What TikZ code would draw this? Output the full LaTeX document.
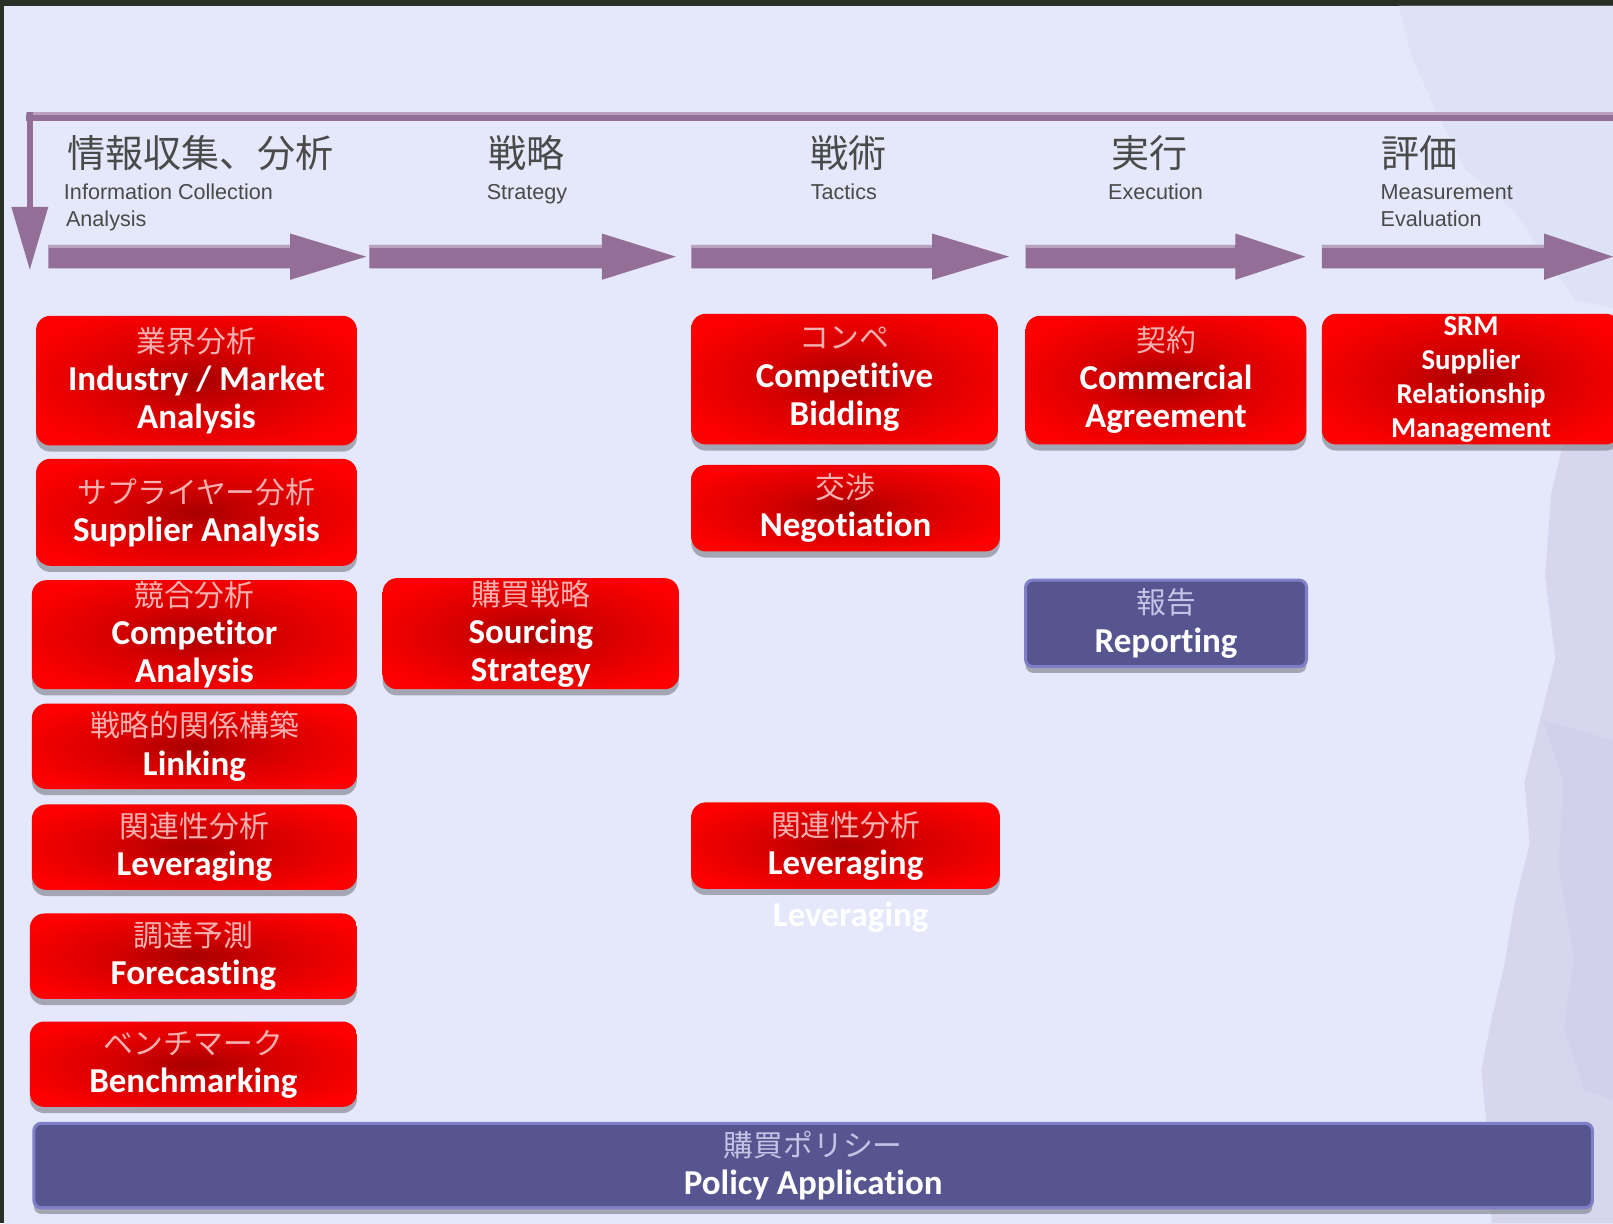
\documentclass[tikz,border=0pt]{standalone}
\usepackage{fontspec}
\usetikzlibrary{shadows}
\setmainfont{Liberation Sans}
\newfontfamily\jpfont{Noto Sans CJK JP}
\newfontfamily\boxfont[Ligatures=NoCommon]{Carlito}
\newfontfamily\hdfont{Liberation Sans}

\definecolor{bg}{HTML}{E4E8FA}
\definecolor{framec}{HTML}{263024}
\definecolor{mauve}{HTML}{936E97}
\definecolor{mauvehi}{HTML}{B9A2C0}
\definecolor{rdark}{HTML}{A80000}
\definecolor{rmid}{HTML}{D40000}
\definecolor{rbright}{HTML}{FF0000}
\definecolor{navy}{HTML}{56558F}
\definecolor{navyhi}{HTML}{7F7FC8}
\definecolor{hdtext}{HTML}{4A4A4A}
\definecolor{jpred}{HTML}{F6B0B0}
\definecolor{jpnavy}{HTML}{C4C4E6}
\definecolor{mapfaint}{HTML}{DCE0F5}
\definecolor{mapc}{HTML}{CDCCE8}

\pgfdeclareradialshading{redglow}{\pgfpoint{0bp}{0bp}}{%
  color(0bp)=(rdark); color(12bp)=(rmid); color(30bp)=(rbright); color(50bp)=(rbright)}

% Japanese captions inside the boxes (light weight)
\newcommand\jpin{\jpfont\mdseries\fontsize{29}{37}\selectfont\color{jpred}}
\newcommand\jpnv{\jpfont\mdseries\fontsize{29}{37}\selectfont\color{jpnavy}}

\tikzset{
  redbox/.style={shade, shading=redglow, rounded corners=14pt, inner sep=0pt,
    align=center, text=white,
    font=\boxfont\bfseries\fontsize{34}{37}\selectfont,
    drop shadow={shadow xshift=0pt, shadow yshift=-6pt, fill=black!40!bg, opacity=0.7}},
  navybox/.style={fill=navy, draw=navyhi, line width=3pt, rounded corners=7pt, inner sep=0pt,
    align=center, text=white,
    font=\boxfont\bfseries\fontsize{34}{37}\selectfont,
    drop shadow={shadow xshift=0pt, shadow yshift=-6pt, fill=black!40!bg, opacity=0.7}},
  hdjp/.style={anchor=base west, inner sep=0pt, text=hdtext, font=\jpfont\fontsize{37}{40}\selectfont},
  hden/.style={anchor=base west, inner sep=0pt, text=hdtext, font=\hdfont\fontsize{21}{24}\selectfont},
  bandarrow/.style={fill=mauve},
}

\begin{document}
\begin{tikzpicture}[x=1pt, y=-1pt]
\useasboundingbox (0,0) rectangle (1568,1189);

% dark surround and light panel
\fill[framec] (0,0) rectangle (1568,1189);
\fill[bg] (3.5,5.5) rectangle (1575,1195);

% faint map texture along the right edge
\fill[mapfaint, opacity=0.7] (1360,5.5) -- (1570,5.5) -- (1570,300) -- (1532,292) -- (1505,255)
  -- (1472,205) -- (1425,165) -- (1395,105) -- (1372,55) -- cycle;
\fill[mapc, opacity=0.6] (1570,300) -- (1548,335) -- (1522,420) -- (1508,480) -- (1502,560)
  -- (1512,640) -- (1497,700) -- (1482,760) -- (1487,820) -- (1472,880) -- (1462,940)
  -- (1450,990) -- (1440,1040) -- (1445,1092) -- (1450,1189) -- (1570,1189) -- cycle;
\fill[mapc, opacity=0.5] (1500,700) -- (1520,760) -- (1515,840) -- (1530,930) -- (1520,1000)
  -- (1540,1060) -- (1570,1070) -- (1570,720) -- cycle;

% top band with the return arrow on the left
\fill[mauve] (25,109) rectangle (1570,118);
\fill[mauvehi] (25,109) rectangle (1570,111.5);
\fill[mauve] (26,109) rectangle (32,202);
\fill[mauve] (11,201) -- (47,201) -- (29,262) -- cycle;

% phase arrows
\foreach \s/\b/\t [count=\i] in {47/282/356, 359/585/657, 672/906/981, 997/1201/1269, 1285/1501/1568}{
  \fill[bandarrow] (\s,238) -- (\b,238) -- (\b,227) -- (\t,249.5) -- (\b,272) -- (\b,261) -- (\s,261) -- cycle;
  \fill[mauvehi] (\s,238) rectangle (\b,241);
}

% phase headings
\node[hdjp] (h1jp) at (65,163) {情報収集、分析};
\node[hden] (h1en) at (62,194) {Information Collection};
\node[hden] (h1en2) at (64,220) {Analysis};
\node[hdjp] (h2jp) at (475,163) {戦略};
\node[hden] (h2en) at (473,194) {Strategy};
\node[hdjp] (h3jp) at (788,163) {戦術};
\node[hden] (h3en) at (788,194) {Tactics};
\node[hdjp] (h4jp) at (1080,163) {実行};
\node[hden] (h4en) at (1077,194) {Execution};
\node[hdjp] (h5jp) at (1343,163) {評価};
\node[hden] (h5en) at (1342,194) {Measurement};
\node[hden] (h5en2) at (1342,220) {Evaluation};

% information collection / analysis column
\node[redbox, minimum width=312pt, minimum height=126pt] (ind) at (191,370)
  {{\jpin 業界分析}\\Industry / Market\\Analysis};
\node[redbox, minimum width=312pt, minimum height=104pt] (sup) at (191,498)
  {{\jpin サプライヤー分析}\\Supplier Analysis};
\node[redbox, minimum width=316pt, minimum height=106pt] (comp) at (189,617)
  {{\jpin 競合分析}\\Competitor\\Analysis};
\node[redbox, minimum width=316pt, minimum height=83pt] (link) at (189,725.5)
  {{\jpin 戦略的関係構築}\\Linking};
\node[redbox, minimum width=316pt, minimum height=83pt] (lev1) at (189,823.5)
  {{\jpin 関連性分析}\\Leveraging};
\node[redbox, minimum width=318pt, minimum height=83pt] (fore) at (188,929.5)
  {{\jpin 調達予測}\\Forecasting};
\node[redbox, minimum width=318pt, minimum height=83pt] (bench) at (188,1034.5)
  {{\jpin ベンチマーク}\\Benchmarking};

% strategy column
\node[redbox, minimum width=288pt, minimum height=108pt] (src) at (516,616)
  {{\jpin 購買戦略}\\Sourcing\\Strategy};

% tactics column
\node[redbox, minimum width=298pt, minimum height=127pt] (bid) at (821,368.5)
  {{\jpin コンペ}\\Competitive\\Bidding};
\node[redbox, minimum width=300pt, minimum height=84pt] (neg) at (822,494)
  {{\jpin 交渉}\\Negotiation};
\node[redbox, minimum width=300pt, minimum height=84pt] (lev2) at (822,822)
  {{\jpin 関連性分析}\\Leveraging};
\node[inner sep=0pt, text=white, font=\boxfont\bfseries\fontsize{34}{37}\selectfont]
  (lev2note) at (827,892) {Leveraging};

% execution column
\node[redbox, minimum width=273pt, minimum height=125pt] (agr) at (1133.5,369.5)
  {{\jpin 契約}\\Commercial\\Agreement};
\node[navybox, minimum width=273pt, minimum height=84pt] (rep) at (1133.5,606)
  {{\jpnv 報告}\\Reporting};

% measurement column
\node[redbox, minimum width=290pt, minimum height=127pt,
      font=\boxfont\bfseries\fontsize{28}{33}\selectfont] (srm) at (1430,368.5)
  {SRM\\Supplier\\Relationship\\Management};

% policy bar
\node[navybox, minimum width=1515pt, minimum height=82pt] (pol) at (790.5,1133)
  {{\jpnv 購買ポリシー}\\Policy Application};
\end{tikzpicture}
\end{document}
